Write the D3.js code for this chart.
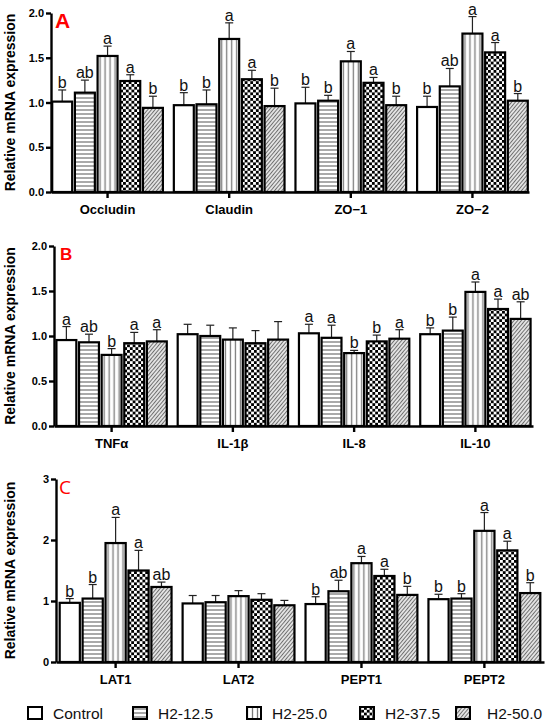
<!DOCTYPE html>
<html>
<head>
<meta charset="utf-8">
<script src="https://cdn.jsdelivr.net/npm/d3@7"></script>
<style>
  body { margin: 0; background: #fff; }
  text { font-family: "Liberation Sans", Arial, sans-serif; }
</style>
</head>
<body>
<svg id="chart" width="550" height="726"></svg>
<script>
const series = ["Control", "H2-12.5", "H2-25.0", "H2-37.5", "H2-50.0"];

// panel A - tight junction genes
const genesA = ["Occludin", "Claudin", "ZO\u22121", "ZO\u22122"];
const meanA = [
  [1.01, 1.11, 1.52, 1.24, 0.94],
  [0.97, 0.98, 1.71, 1.26, 0.96],
  [0.99, 1.02, 1.46, 1.22, 0.97],
  [0.95, 1.18, 1.77, 1.56, 1.02]
];
const sdA = [
  [0.13, 0.14, 0.11, 0.07, 0.13],
  [0.14, 0.16, 0.18, 0.10, 0.20],
  [0.18, 0.06, 0.11, 0.06, 0.10],
  [0.12, 0.20, 0.19, 0.11, 0.08]
];
const lettersA = [
  ["b", "ab", "a", "a", "b"],
  ["b", "b", "a", "a", "b"],
  ["b", "b", "a", "a", "b"],
  ["b", "ab", "a", "a", "b"]
];

// panel B - cytokines
const genesB = ["TNF\u03b1", "IL-1\u03b2", "IL-8", "IL-10"];
const meanB = [
  [0.955, 0.93, 0.79, 0.92, 0.94],
  [1.02, 1.00, 0.96, 0.92, 0.96],
  [1.03, 0.98, 0.81, 0.94, 0.97],
  [1.02, 1.06, 1.49, 1.30, 1.19]
];
const sdB = [
  [0.15, 0.09, 0.07, 0.12, 0.13],
  [0.11, 0.12, 0.13, 0.14, 0.20],
  [0.10, 0.14, 0.03, 0.07, 0.10],
  [0.07, 0.15, 0.11, 0.11, 0.19]
];
const lettersB = [
  ["a", "ab", "b", "a", "a"],
  ["", "", "", "", ""],
  ["a", "a", "b", "b", "a"],
  ["b", "b", "a", "a", "ab"]
];

// panel C - transporters
const genesC = ["LAT1", "LAT2", "PEPT1", "PEPT2"];
const meanC = [
  [0.97, 1.04, 1.95, 1.50, 1.23],
  [0.96, 0.98, 1.08, 1.02, 0.93],
  [0.95, 1.16, 1.62, 1.41, 1.10],
  [1.03, 1.04, 2.15, 1.83, 1.13]
];
const sdC = [
  [0.07, 0.23, 0.42, 0.33, 0.08],
  [0.13, 0.11, 0.09, 0.10, 0.08],
  [0.12, 0.18, 0.11, 0.11, 0.14],
  [0.08, 0.08, 0.30, 0.15, 0.17]
];
const lettersC = [
  ["b", "b", "a", "a", "ab"],
  ["", "", "", "", ""],
  ["b", "ab", "a", "a", "b"],
  ["b", "b", "a", "a", "b"]
];

const ticksAB = [0, 0.5, 1.0, 1.5, 2.0];
const ticksC = [0, 1, 2, 3];

const svg = d3.select("#chart");
const defs = svg.append("defs");

// fill patterns for each group
function makePattern(id, w, h, build, transform) {
  const p = defs.append("pattern")
    .attr("id", id)
    .attr("patternUnits", "userSpaceOnUse")
    .attr("width", w).attr("height", h);
  if (transform) p.attr("patternTransform", transform);
  p.append("rect").attr("width", w).attr("height", h).attr("fill", "#fff");
  build(p);
}
makePattern("p-hl", 6, 4, p => p.append("line")
  .attr("x1", 0).attr("x2", 6).attr("y1", 2).attr("y2", 2)
  .attr("stroke", "#7a7a7a").attr("stroke-width", 1.3));
makePattern("p-vl", 5, 6, p => p.append("line")
  .attr("x1", 2.5).attr("x2", 2.5).attr("y1", 0).attr("y2", 6)
  .attr("stroke", "#7a7a7a").attr("stroke-width", 1.3));
makePattern("p-ck", 5.6, 5.6, p => {
  p.append("rect").attr("width", 2.8).attr("height", 2.8).attr("fill", "#000");
  p.append("rect").attr("x", 2.8).attr("y", 2.8).attr("width", 2.8).attr("height", 2.8).attr("fill", "#000");
});
makePattern("p-dg", 2.8, 4, p => p.append("line")
  .attr("x1", 1.4).attr("x2", 1.4).attr("y1", 0).attr("y2", 4)
  .attr("stroke", "#6e6e6e").attr("stroke-width", 1.3), "rotate(40)");

const fills = ["#fff", "url(#p-hl)", "url(#p-vl)", "url(#p-ck)", "url(#p-dg)"];

function drawPanel(cfg) {
  const g = svg.append("g");

  const x = d3.scaleBand()
    .domain(cfg.genes)
    .range([cfg.left, cfg.right])
    .paddingInner(0.09)
    .paddingOuter(cfg.outer);

  const xs = d3.scaleBand()
    .domain(series)
    .range([0, x.bandwidth()])
    .paddingInner(0.12);

  const y = d3.scaleLinear()
    .domain([0, cfg.ymax])
    .range([cfg.bottom, cfg.top]);

  const rows = [];
  cfg.genes.forEach((gene, i) => {
    series.forEach((s, j) => {
      rows.push({ gene, s, j, mean: cfg.mean[i][j], sd: cfg.sd[i][j], letter: cfg.letters[i][j] });
    });
  });

  const bar = g.selectAll(".bar")
    .data(rows)
    .join("g")
    .attr("transform", d => `translate(${x(d.gene) + xs(d.s)},0)`);

  const bw = xs.bandwidth();

  // error bars (upper half only)
  bar.append("line")
    .attr("x1", bw / 2).attr("x2", bw / 2)
    .attr("y1", d => y(d.mean)).attr("y2", d => y(d.mean + d.sd))
    .attr("stroke", "#222").attr("stroke-width", 1.2);
  bar.append("line")
    .attr("x1", bw / 2 - 4).attr("x2", bw / 2 + 4)
    .attr("y1", d => y(d.mean + d.sd)).attr("y2", d => y(d.mean + d.sd))
    .attr("stroke", "#222").attr("stroke-width", 1.2);

  bar.append("rect")
    .attr("x", 0)
    .attr("width", bw)
    .attr("y", d => y(d.mean))
    .attr("height", d => y(0) - y(d.mean))
    .attr("fill", d => fills[d.j])
    .attr("stroke", "#000")
    .attr("stroke-width", 2.2);

  bar.append("text")
    .attr("x", bw / 2)
    .attr("y", d => y(d.mean + d.sd) - 2)
    .attr("text-anchor", "middle")
    .attr("font-size", 16)
    .attr("fill", "#111")
    .text(d => d.letter);

  // axes
  const yAxis = g.append("g")
    .attr("transform", `translate(${cfg.left},0)`)
    .call(d3.axisLeft(y).tickValues(cfg.ticks).tickSize(5).tickSizeOuter(0)
      .tickPadding(2).tickFormat(cfg.fmt));
  yAxis.selectAll("path, line").attr("stroke", "#000").attr("stroke-width", 2.4);
  yAxis.selectAll("text").attr("font-size", 11).attr("font-weight", "bold")
    .attr("fill", "#000").style("font-family", '"Liberation Sans", Arial, sans-serif');

  const xAxis = g.append("g")
    .attr("transform", `translate(0,${cfg.bottom})`)
    .call(d3.axisBottom(x).tickSize(6).tickSizeOuter(0).tickPadding(7));
  xAxis.selectAll("path, line").attr("stroke", "#000").attr("stroke-width", 2.4);
  xAxis.selectAll("text").attr("font-size", 13).attr("font-weight", "bold")
    .attr("fill", "#000").style("font-family", '"Liberation Sans", Arial, sans-serif');

  g.append("text")
    .attr("transform", `translate(15,${(cfg.top + cfg.bottom) / 2}) rotate(-90)`)
    .attr("text-anchor", "middle")
    .attr("font-size", 14)
    .attr("font-weight", "bold")
    .text("Relative mRNA expression");

  g.append("text")
    .attr("x", cfg.left + cfg.tagDx)
    .attr("y", cfg.top + cfg.tagDy)
    .attr("fill", "#ff0000")
    .attr("font-size", cfg.tagSize)
    .attr("font-weight", cfg.tagWeight)
    .style("font-family", cfg.tagFont)
    .text(cfg.tag);
}

drawPanel({ genes: genesA, mean: meanA, sd: sdA, letters: lettersA, ticks: ticksAB,
  ymax: 2, fmt: d3.format(".1f"), left: 51, right: 529, top: 13, bottom: 192, outer: 0.01,
  tag: "A", tagDx: 4, tagDy: 15, tagSize: 21, tagWeight: "bold", tagFont: '"Liberation Sans", Arial, sans-serif' });

drawPanel({ genes: genesB, mean: meanB, sd: sdB, letters: lettersB, ticks: ticksAB,
  ymax: 2, fmt: d3.format(".1f"), left: 54, right: 533, top: 246, bottom: 426, outer: 0.02,
  tag: "B", tagDx: 6, tagDy: 14, tagSize: 17, tagWeight: "bold", tagFont: '"Liberation Sans", Arial, sans-serif' });

drawPanel({ genes: genesC, mean: meanC, sd: sdC, letters: lettersC, ticks: ticksC,
  ymax: 3, fmt: d3.format("d"), left: 56, right: 544, top: 479, bottom: 662, outer: 0.03,
  tag: "C", tagDx: 3, tagDy: 15, tagSize: 19, tagWeight: "normal", tagFont: '"Open Sans", "Noto Sans", sans-serif' });

// legend
const legendX = [28, 133, 247, 360, 456];
const legend = svg.append("g").attr("transform", "translate(0,707)");
series.forEach((s, i) => {
  legend.append("rect")
    .attr("x", legendX[i]).attr("y", 0)
    .attr("width", 14).attr("height", 12)
    .attr("fill", fills[i])
    .attr("stroke", "#000").attr("stroke-width", 2);
  legend.append("text")
    .attr("x", legendX[i] + (i === 4 ? 31 : 25)).attr("y", 11.5)
    .attr("font-size", 15.5)
    .attr("fill", "#111")
    .text(s);
});
</script>
</body>
</html>
